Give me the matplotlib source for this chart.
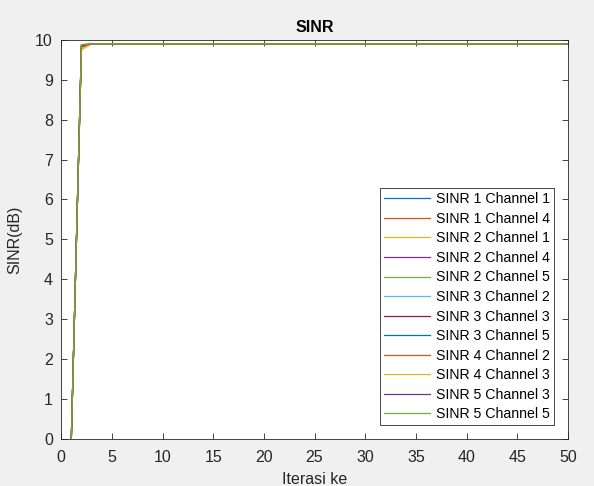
import matplotlib.pyplot as plt

plt.rcParams['font.family'] = ['Liberation Sans', 'DejaVu Sans']

iterations = list(range(1, 51))

# SINR (dB) per iteration for each user/channel pair
sinr_steady = [9.9] * 48
series = {
    'SINR 1 Channel 1': [0, 9.87] + sinr_steady,
    'SINR 1 Channel 4': [0, 9.80] + sinr_steady,
    'SINR 2 Channel 1': [0, 9.75] + sinr_steady,
    'SINR 2 Channel 4': [0, 9.86] + sinr_steady,
    'SINR 2 Channel 5': [0, 9.88] + sinr_steady,
    'SINR 3 Channel 2': [0, 9.85] + sinr_steady,
    'SINR 3 Channel 3': [0, 9.84] + sinr_steady,
    'SINR 3 Channel 5': [0, 9.86] + sinr_steady,
    'SINR 4 Channel 2': [0, 9.82] + sinr_steady,
    'SINR 4 Channel 3': [0, 9.78] + sinr_steady,
    'SINR 5 Channel 3': [0, 9.85] + sinr_steady,
    'SINR 5 Channel 5': [0, 9.88] + sinr_steady,
}

colors = ['#0072BD', '#D95319', '#EDB120', '#7E2F8E', '#77AC30',
          '#4DBEEE', '#A2142F']

fig = plt.figure(figsize=(5.94, 4.86), dpi=100, facecolor='#f0f0f0')
ax = fig.add_axes([0.103, 0.097, 0.853, 0.821])

for i, (name, vals) in enumerate(series.items()):
    ax.plot(iterations, vals, color=colors[i % len(colors)], lw=0.9, label=name)

ax.set_xlim(0, 50)
ax.set_ylim(0, 10)
ax.set_xticks(range(0, 51, 5))
ax.set_yticks(range(0, 11))
ax.tick_params(direction='in', labelsize=11.5, colors='#262626', length=4, top=True, right=True,
               labeltop=False, labelright=False, width=0.6)
ax.tick_params(axis='x', pad=8)
ax.tick_params(axis='y', pad=6)
for s in ax.spines.values():
    s.set_color('#262626')
    s.set_linewidth(0.6)

ax.set_title('SINR', fontsize=11.5, fontweight='bold', color='black', pad=6)
ax.set_xlabel('Iterasi ke', fontsize=11.5, color='#262626', labelpad=5)
ax.set_ylabel('SINR(dB)', fontsize=11.5, color='#262626', labelpad=9)

leg = ax.legend(loc='lower right', fontsize=10.2, fancybox=False, framealpha=1,
                edgecolor='#262626', borderpad=0.3, labelspacing=0.39,
                handlelength=3.2, handletextpad=0.45, borderaxespad=0.95)
leg.get_frame().set_linewidth(0.6)

fig.savefig('out.png', dpi=100, facecolor=fig.get_facecolor())
